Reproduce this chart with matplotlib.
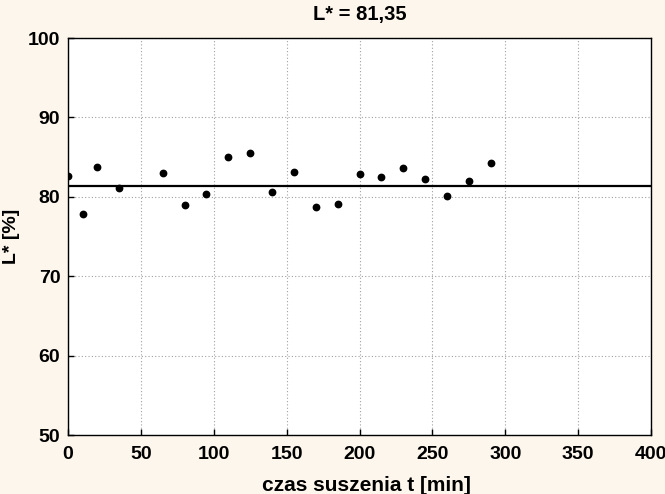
import matplotlib
matplotlib.use("Agg")
import matplotlib.pyplot as plt

time_min = [0, 10, 20, 35, 65, 80, 95, 110, 125, 140, 155, 170, 185, 200, 215, 230, 245, 260, 275, 290]
L_values = [82.6, 77.8, 83.75, 81.07, 82.96, 78.97, 80.35, 85.0, 85.48, 80.57,
            83.12, 78.68, 79.09, 82.83, 82.49, 83.63, 82.2, 80.06, 81.95, 84.26]
L_mean = 81.35
x_ticks = [0, 50, 100, 150, 200, 250, 300, 350, 400]
y_ticks = [50, 60, 70, 80, 90, 100]

plt.rcParams['font.family'] = ['Liberation Sans', 'DejaVu Sans']

bg = '#fcf6ec'
fig = plt.figure(figsize=(6.65, 4.94), dpi=100, facecolor=bg)
ax = fig.add_axes([68/665, 1-435/494, (651-68)/665, (435-38)/494])
ax.set_facecolor('white')

ax.plot(time_min, L_values, 'o', color='black', markersize=4.6, zorder=3)
ax.axhline(L_mean, color='black', linewidth=1.6, zorder=2)

ax.set_xlim(0, 400)
ax.set_ylim(50, 100)
ax.set_xticks(x_ticks)
ax.set_yticks(y_ticks)
ax.grid(True, color='#a0a0a0', linestyle=(0, (1, 2)), linewidth=0.8)
ax.tick_params(direction='in', length=4, width=1, labelsize=14)
ax.tick_params(axis='x', pad=8)
ax.tick_params(axis='y', pad=5.5)
for lab in ax.get_xticklabels() + ax.get_yticklabels():
    lab.set_fontweight('bold')
for s in ax.spines.values():
    s.set_linewidth(1)
    s.set_color('black')

ax.set_title('L* = 81,35', fontsize=14.5, fontweight='bold', pad=13)
ax.set_xlabel('czas suszenia t [min]', fontsize=15, fontweight='bold', va='center')
ax.xaxis.set_label_coords((366 - 68) / 583, -(485 - 435) / 397)
ax.set_ylabel('L* [%]', fontsize=14, fontweight='bold', va='center')
ax.yaxis.set_label_coords((11 - 68) / 583, 0.5 - (236 - 236.5) / 397)

fig.savefig('out.png', dpi=100, facecolor=bg)
